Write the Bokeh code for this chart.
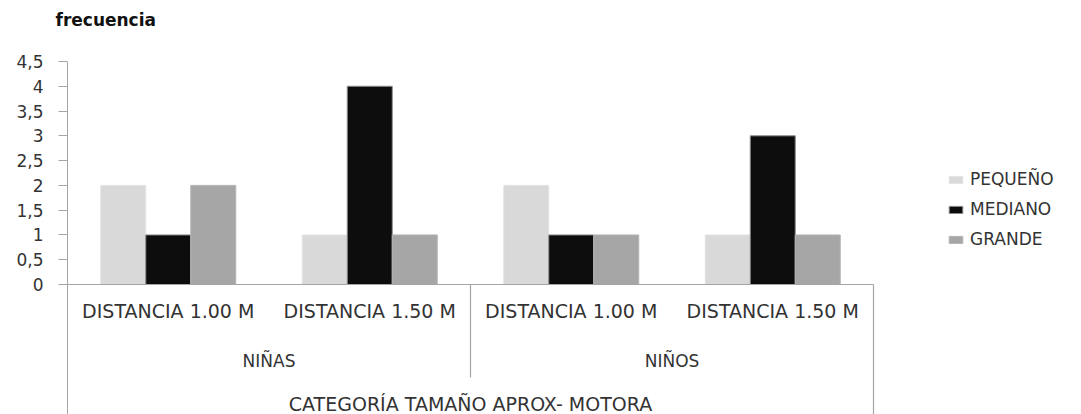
from bokeh.plotting import figure
from bokeh.models import Range1d, FixedTicker, Legend, LegendItem, ColumnDataSource, Title
from bokeh.transform import dodge
from bokeh.core.properties import value
from bokeh.embed import file_html
from bokeh.resources import INLINE

# --- data -------------------------------------------------------------
grupos = ["NIÑAS", "NIÑAS", "NIÑOS", "NIÑOS"]
distancias = ["DISTANCIA 1.00 M", "DISTANCIA 1.50 M",
              "DISTANCIA 1.00 M", "DISTANCIA 1.50 M"]
pequeno = [2, 1, 2, 1]
mediano = [1, 4, 1, 3]
grande = [2, 1, 1, 1]
series = ["PEQUEÑO", "MEDIANO", "GRANDE"]
y_ticks = [0, 0.5, 1, 1.5, 2, 2.5, 3, 3.5, 4, 4.5]
y_tick_labels = ["0", "0,5", "1", "1,5", "2", "2,5", "3", "3,5", "4", "4,5"]
titulo_y = "frecuencia"
titulo_x = "CATEGORÍA TAMAÑO APROX- MOTORA"

# --- layout constants (pixels) ----------------------------------------
W, H = 1081, 414
LEFT, TOP = 67, 61          # frame origin
CAT_PX = 201.5              # width of one category slot
ZERO_PX = 284               # canvas row of the value axis zero
UNIT_PX = (ZERO_PX - TOP) / max(y_ticks)
BAR = 45 / CAT_PX           # bar width in category units

FONT = value("DejaVu Sans")
TXT = "#333333"
LINE = "#a6a6a6"

n = len(distancias)
x_end = (W - LEFT) / CAT_PX
y_start = -(H - ZERO_PX) / UNIT_PX


def px_below_zero(px):
    return -px / UNIT_PX


src = ColumnDataSource(dict(
    x=[i + 0.5 for i in range(n)],
    pequeno=pequeno, mediano=mediano, grande=grande,
    dist=distancias,
))

p = figure(width=W, height=H, output_backend="svg", toolbar_location=None,
           x_range=Range1d(0, x_end), y_range=Range1d(y_start, max(y_ticks)),
           x_axis_location=None, y_axis_location="left",
           min_border_left=LEFT, min_border_right=0,
           min_border_top=TOP, min_border_bottom=0,
           background_fill_color="white", border_fill_color="white")
p.outline_line_color = None
p.grid.visible = False

# value-axis title, lifted above the frame by a blank spacer title
p.title.text = titulo_y
p.title.align = "left"
p.title.vertical_align = "top"
p.title.offset = 55 - LEFT
p.title.standoff = 16
p.title.text_font = "DejaVu Sans"
p.title.text_font_style = "bold"
p.title.text_font_size = "17px"
p.title.text_color = "#111111"
p.add_layout(Title(text=" ", text_font_size="2px", standoff=18), "above")

# value axis
ax = p.yaxis[0]
ax.ticker = FixedTicker(ticks=y_ticks)
ax.major_label_overrides = {t: s for t, s in zip(y_ticks, y_tick_labels)}
ax.minor_tick_line_color = None
ax.major_tick_in = 0
ax.major_tick_out = 9
ax.major_tick_line_color = LINE
ax.axis_line_color = LINE
ax.major_label_standoff = 15
ax.major_label_text_font = "DejaVu Sans"
ax.major_label_text_font_size = "17px"
ax.major_label_text_color = TXT

# bars
fills = ["#d9d9d9", "#0d0d0d", "#a6a6a6"]
edges = ["#e4e4e4", "#8c8c8c", "#b4b4b4"]
cols = ["pequeno", "mediano", "grande"]
offsets = [-BAR, 0, BAR]
renderers = []
for col, off, fc, ec in zip(cols, offsets, fills, edges):
    r = p.vbar(x=dodge("x", off), top=col, bottom=0, width=BAR, source=src,
               fill_color=fc, line_color=ec, line_width=1)
    renderers.append(r)

# category axis drawn inside the extended frame
p.segment(x0=[0], y0=[0], x1=[n], y1=[0], line_color=LINE, line_width=1.2)
p.segment(x0=[n], y0=[0], x1=[n], y1=[y_start], line_color=LINE, line_width=1.2)

bounds = [i for i in range(1, n) if grupos[i] != grupos[i - 1]]
p.segment(x0=bounds, y0=[0] * len(bounds), x1=bounds,
          y1=[px_below_zero(93)] * len(bounds), line_color=LINE, line_width=1.2)

p.text(x=[i + 0.5 for i in range(n)], y=[px_below_zero(26)] * n, text=distancias,
       text_align="center", text_baseline="middle", text_font=FONT,
       text_font_size="19px", text_color=TXT)

nombres = list(dict.fromkeys(grupos))
centros = [sum(i + 0.5 for i in range(n) if grupos[i] == g) /
           grupos.count(g) for g in nombres]
p.text(x=centros, y=[px_below_zero(76)] * len(nombres), text=nombres,
       text_align="center", text_baseline="middle", text_font=FONT,
       text_font_size="17px", text_color=TXT)

p.text(x=[n / 2], y=[px_below_zero(119)], text=[titulo_x],
       text_align="center", text_baseline="middle", text_font=FONT,
       text_font_size="19px", text_color=TXT)

# legend
legend = Legend(items=[LegendItem(label=s, renderers=[r])
                       for s, r in zip(series, renderers)],
                location=(880, 164), orientation="vertical",
                glyph_width=17, glyph_height=9, label_height=22, spacing=8,
                padding=0, margin=0, label_standoff=6,
                border_line_color=None, background_fill_alpha=0,
                label_text_font="DejaVu Sans", label_text_font_size="17px",
                label_text_color=TXT)
p.add_layout(legend)

open("out.html", "w").write(file_html(p, INLINE))
